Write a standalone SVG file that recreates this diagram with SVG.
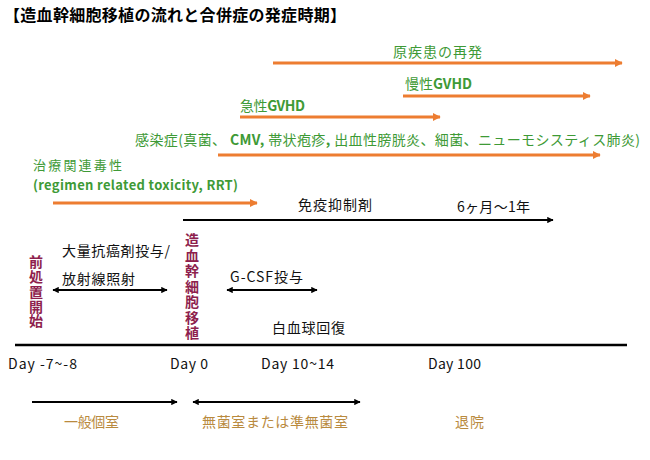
<svg xmlns="http://www.w3.org/2000/svg" width="650" height="460" viewBox="0 0 650 460">
<defs>
<marker id="ao" viewBox="0 0 10 10" refX="9" refY="5" markerWidth="3.2" markerHeight="2.6" orient="auto" markerUnits="strokeWidth"><path d="M0,0 L10,5 L0,10 Z" fill="#ED7D31"/></marker>
<marker id="ak" viewBox="0 0 10 10" refX="9" refY="5" markerWidth="4" markerHeight="3.2" orient="auto-start-reverse" markerUnits="strokeWidth"><path d="M0,0 L10,5 L0,10 Z" fill="#000"/></marker>
<style>
text{font-family:"Noto Sans CJK JP","Noto Sans",sans-serif;}
.t{font-size:16px;font-weight:bold;fill:#000;}
.g{font-size:14px;fill:#3E9A36;}
.g2{font-size:13px;fill:#3E9A36;}
.b{font-size:14px;fill:#111;}
.m{font-size:14px;fill:#8E1F4E;font-weight:bold;writing-mode:vertical-rl;}
.r{font-size:14px;fill:#B98A3E;}
.d{font-size:14px;fill:#111;}
.bo{font-weight:bold;}
.ol{stroke:#ED7D31;stroke-width:3;fill:none;marker-end:url(#ao);}
.kl{stroke:#000;stroke-width:2;fill:none;marker-end:url(#ak);}
.kd{stroke:#000;stroke-width:2;fill:none;marker-end:url(#ak);marker-start:url(#ak);}
</style>
</defs>
<rect width="650" height="460" fill="#fff"/>
<text id="title" class="t" x="4" y="21" textLength="342">【造血幹細胞移植の流れと合併症の発症時期】</text>

<g id="connectors">
<line class="ol" x1="273" y1="63" x2="622" y2="63"/>
<line class="ol" x1="403" y1="96" x2="590" y2="96"/>
<line class="ol" x1="240" y1="117" x2="440" y2="117"/>
<line class="ol" x1="218" y1="155" x2="600" y2="155"/>
<line class="ol" x1="53" y1="203" x2="257" y2="203"/>
<line class="kl" x1="183" y1="220" x2="553" y2="220"/>
<line class="kd" x1="53" y1="290" x2="167" y2="290"/>
<line class="kd" x1="227" y1="290" x2="317" y2="290"/>
<line x1="15" y1="345" x2="627" y2="345" stroke="#000" stroke-width="2.5"/>
<line class="kl" x1="32" y1="402" x2="177" y2="402"/>
<line class="kd" x1="193" y1="402" x2="360" y2="402"/>
</g>

<g id="relapse"><text class="g" x="393" y="57" textLength="89">原疾患の再発</text></g>
<g id="cgvhd"><text class="g" x="405" y="89" textLength="67">慢性<tspan class="bo">GVHD</tspan></text></g>
<g id="agvhd"><text class="g" x="240" y="111" textLength="65">急性<tspan class="bo">GVHD</tspan></text></g>
<g id="infection"><text class="g" x="135" y="145" textLength="505">感染症(真菌、 <tspan class="bo">CMV,</tspan> 帯状疱疹<tspan class="bo">,</tspan> 出血性膀胱炎、細菌、ニューモシスティス肺炎)</text></g>
<g id="rrt">
<text class="g2" x="33" y="170" textLength="89">治療関連毒性</text>
<text class="g2" x="33" y="190" textLength="205" font-weight="bold">(regimen related toxicity, RRT)</text>
</g>
<g id="immuno">
<text class="b" x="298" y="210" textLength="74">免疫抑制剤</text>
<text class="b" x="457" y="212" textLength="73">6ヶ月〜1年</text>
</g>
<g id="pre"><text class="m" x="36" y="255" textLength="73">前処置開始</text></g>
<g id="sct"><text class="m" x="192" y="233" textLength="107">造血幹細胞移植</text></g>
<g id="chemo">
<text class="b" x="62" y="256" textLength="108">大量抗癌剤投与/</text>
<text class="b" x="62" y="284" textLength="73">放射線照射</text>
</g>
<g id="gcsf"><text class="b" x="230" y="282" textLength="73">G-CSF投与</text></g>
<g id="wbc"><text class="b" x="272" y="333" textLength="73">白血球回復</text></g>
<g id="days">
<text class="d" x="8" y="369" textLength="69">Day -7~-8</text>
<text class="d" x="170" y="369" textLength="38">Day 0</text>
<text class="d" x="261" y="369" textLength="73">Day 10~14</text>
<text class="d" x="428" y="369" textLength="53">Day 100</text>
</g>
<g id="rooms">
<text class="r" x="64" y="427" textLength="55">一般個室</text>
<text class="r" x="202" y="427" textLength="146">無菌室または準無菌室</text>
<text class="r" x="455" y="427" textLength="29">退院</text>
</g>
</svg>
